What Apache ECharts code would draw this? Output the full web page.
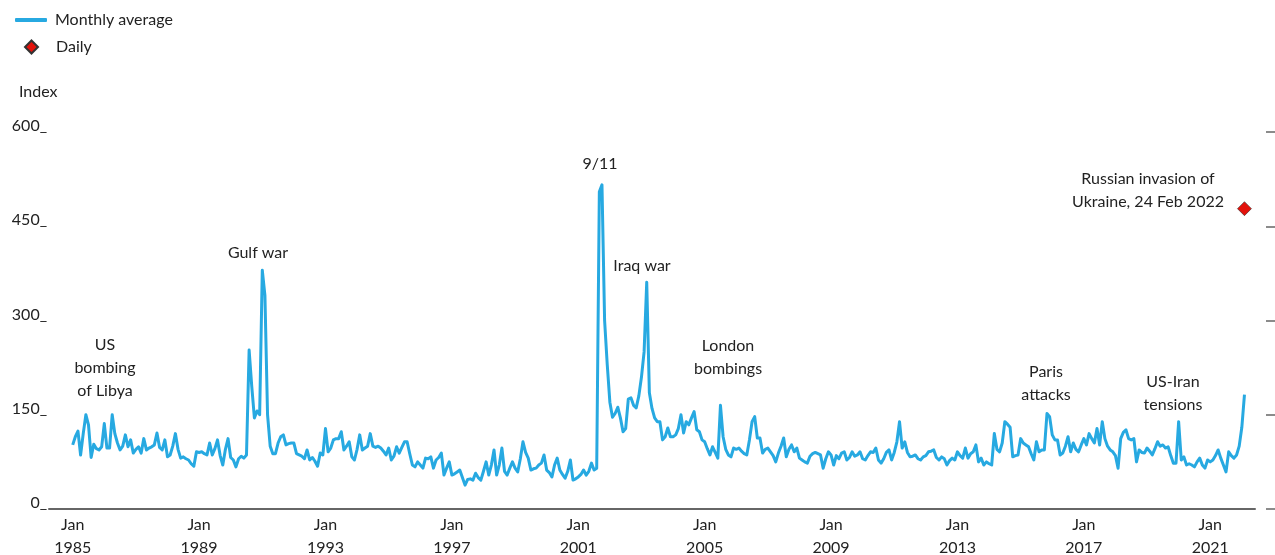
<!DOCTYPE html>
<html>
<head>
<meta charset="utf-8">
<title>Index</title>
<script src="https://cdn.jsdelivr.net/npm/echarts@6.0.0/dist/echarts.min.js"></script>
<style>
	html, body { margin: 0; padding: 0; background: #fff; }
	#chart { width: 1275px; height: 555px; }
</style>
</head>
<body>
<div id="chart"></div>
<script>
// monthly average, Jan 1985 - Feb 2022 (one row per year)
var monthlyAvg = [
	102, 115, 124, 86, 120, 150, 134, 82, 103, 96, 94, 99,
	136, 97, 97, 150, 120, 105, 94, 100, 118, 99, 110, 89,
	95, 99, 89, 112, 94, 97, 99, 102, 121, 98, 94, 110,
	83, 86, 100, 120, 95, 81, 83, 80, 78, 72, 68, 91,
	90, 91, 88, 86, 105, 86, 96, 110, 85, 70, 95, 112,
	82, 78, 67, 80, 84, 81, 86, 253, 195, 145, 156, 150,
	380, 340, 150, 100, 88, 88, 105, 115, 118, 102, 104, 105,
	105, 88, 86, 84, 80, 94, 78, 82, 76, 68, 89, 86,
	128, 91, 97, 110, 112, 112, 123, 94, 100, 107, 83, 78,
	95, 118, 94, 97, 100, 120, 100, 98, 100, 97, 92, 86,
	97, 78, 84, 99, 89, 98, 107, 107, 88, 70, 67, 75,
	70, 65, 81, 80, 83, 65, 78, 82, 89, 54, 65, 75,
	54, 56, 59, 62, 50, 38, 47, 48, 46, 57, 50, 46,
	60, 75, 54, 70, 94, 54, 70, 97, 60, 54, 65, 75,
	65, 59, 80, 107, 90, 81, 62, 64, 65, 70, 73, 86,
	62, 58, 51, 70, 81, 62, 55, 49, 60, 78, 46, 48,
	51, 55, 62, 54, 60, 73, 62, 65, 505, 516, 300, 230,
	170, 146, 152, 162, 145, 123, 128, 175, 177, 165, 161, 180,
	210, 250, 361, 185, 160, 145, 139, 139, 110, 115, 129, 115,
	115, 118, 128, 150, 121, 139, 134, 145, 155, 126, 123, 110,
	107, 96, 86, 99, 90, 81, 165, 115, 95, 86, 83, 97,
	95, 97, 92, 88, 86, 110, 139, 147, 113, 113, 89, 95,
	97, 91, 85, 75, 89, 100, 113, 83, 95, 102, 91, 97,
	81, 78, 75, 73, 84, 88, 90, 88, 86, 65, 80, 91,
	86, 70, 85, 80, 89, 91, 78, 82, 91, 84, 86, 91,
	80, 78, 85, 91, 90, 97, 78, 73, 80, 90, 94, 78,
	90, 107, 139, 97, 107, 90, 83, 84, 86, 80, 78, 83,
	85, 91, 92, 94, 82, 78, 83, 80, 70, 77, 81, 78,
	91, 85, 81, 97, 81, 88, 91, 102, 75, 81, 70, 75,
	72, 70, 120, 95, 91, 105, 139, 135, 130, 83, 85, 86,
	112, 105, 102, 99, 88, 78, 107, 91, 94, 94, 152, 147,
	118, 110, 110, 86, 89, 100, 115, 91, 105, 95, 91, 102,
	112, 102, 120, 112, 105, 128, 102, 139, 112, 100, 94, 91,
	85, 65, 112, 122, 126, 112, 110, 112, 75, 94, 90, 89,
	97, 92, 86, 96, 107, 100, 102, 97, 99, 85, 73, 73,
	139, 78, 83, 70, 72, 70, 67, 75, 81, 70, 65, 78,
	75, 78, 85, 94, 81, 70, 59, 91, 85, 81, 86, 100,
	130, 182
];
var seriesStart = '1985-01';
var dailyPoint = ['2022-02', 478];
var yTicks = [0, 150, 300, 450, 600];
var tickYears = [1985, 1989, 1993, 1997, 2001, 2005, 2009, 2013, 2017, 2021];
// axis runs a little wider than the data on both sides
var axisStart = [1984, 4];
var axisEnd = [2022, 6];

var notes = [
	{ text: 'US\nbombing\nof Libya', x: 105, y: 368 },
	{ text: 'Gulf war', x: 258, y: 253 },
	{ text: '9/11', x: 600, y: 164 },
	{ text: 'Iraq war', x: 642, y: 266 },
	{ text: 'London\nbombings', x: 728, y: 357 },
	{ text: 'Paris\nattacks', x: 1046, y: 383 },
	{ text: 'US-Iran\ntensions', x: 1173, y: 393 },
	{ text: 'Russian invasion of\nUkraine, 24 Feb 2022', x: 1148, y: 190 }
];

function pad(n){ return n < 10 ? '0' + n : '' + n; }

function loadChart(){
	var chart = echarts.init(document.getElementById('chart'));
	var font = 'Lato, "Noto Sans", sans-serif';
	var ink = '#222';
	var blue = '#27A9E1';
	var legendText = { fontFamily: font, fontSize: 16, color: ink };

	// month categories for the axis
	var months = [];
	var y = axisStart[0], m = axisStart[1];
	while (y < axisEnd[0] || (y === axisEnd[0] && m <= axisEnd[1])) {
		months.push(y + '-' + pad(m));
		m++;
		if (m > 12) { m = 1; y++; }
	}
	var lineData = months.map(function(){ return null; });
	var off = months.indexOf(seriesStart);
	monthlyAvg.forEach(function(v, i){ lineData[off + i] = v; });

	var yAxisBase = { type: 'value', min: yTicks[0], max: yTicks[yTicks.length - 1], interval: 150, splitLine: { show: false } };

	var option = {
		animation: false,
		title: {
			text: 'Index', left: 14, top: 79,
			textStyle: { fontFamily: font, fontSize: 16, fontWeight: 'normal', color: ink }
		},
		// two legends so each key gets its own icon size
		legend: [
			{
				left: 15, top: 12, padding: 0,
				itemWidth: 32, itemHeight: 4,
				textStyle: Object.assign({ padding: [0, 0, 0, 3] }, legendText),
				data: [{ name: 'Monthly average', icon: 'roundRect' }]
			},
			{
				left: 24, top: 39, padding: 0,
				itemWidth: 13, itemHeight: 13,
				textStyle: Object.assign({ padding: [0, 0, 0, 13] }, legendText),
				data: [{ name: 'Daily', icon: 'diamond' }]
			}
		],
		grid: { left: 49, right: 20, top: 132, bottom: 46, containLabel: false, outerBoundsMode: 'none' },
		xAxis: {
			type: 'category',
			data: months,
			boundaryGap: false,
			axisLine: { lineStyle: { color: '#666', width: 2 } },
			axisTick: { show: false },
			axisLabel: {
				margin: 4, fontFamily: font, fontSize: 16, lineHeight: 23, color: ink,
				interval: function(idx, val){
					var p = val.split('-');
					return p[1] === '01' && tickYears.indexOf(+p[0]) >= 0;
				},
				formatter: function(val){ return 'Jan\n' + val.split('-')[0]; }
			}
		},
		yAxis: [
			Object.assign({}, yAxisBase, {
				position: 'left',
				axisLine: { show: false },
				axisTick: { show: false },
				axisLabel: {
					margin: 2, fontFamily: font, fontSize: 16, color: ink, verticalAlign: 'bottom', lineHeight: 12,
					formatter: function(v){ return v + '_'; }
				}
			}),
			Object.assign({}, yAxisBase, {
				position: 'right', offset: 11,
				axisLine: { show: false },
				axisLabel: { show: false },
				axisTick: { show: true, length: 9, lineStyle: { color: '#666', width: 1.5 } }
			})
		],
		series: [
			{
				name: 'Monthly average',
				type: 'line',
				data: lineData,
				symbol: 'none',
				lineStyle: { color: blue, width: 3, join: 'round' },
				itemStyle: { color: blue }
			},
			{
				name: 'Daily',
				type: 'scatter',
				data: [dailyPoint],
				symbol: 'diamond',
				symbolSize: 14,
				itemStyle: { color: '#E3120B', opacity: 1, borderColor: '#333', borderWidth: 0.6 }
			}
		],
		graphic: notes.map(function(n){
			return {
				type: 'text', x: n.x, y: n.y, silent: true,
				style: {
					text: n.text, align: 'center', verticalAlign: 'middle',
					fontFamily: font, fontSize: 16, lineHeight: 23, fill: ink
				}
			};
		})
	};
	chart.setOption(option);
}
loadChart();
</script>
</body>
</html>
